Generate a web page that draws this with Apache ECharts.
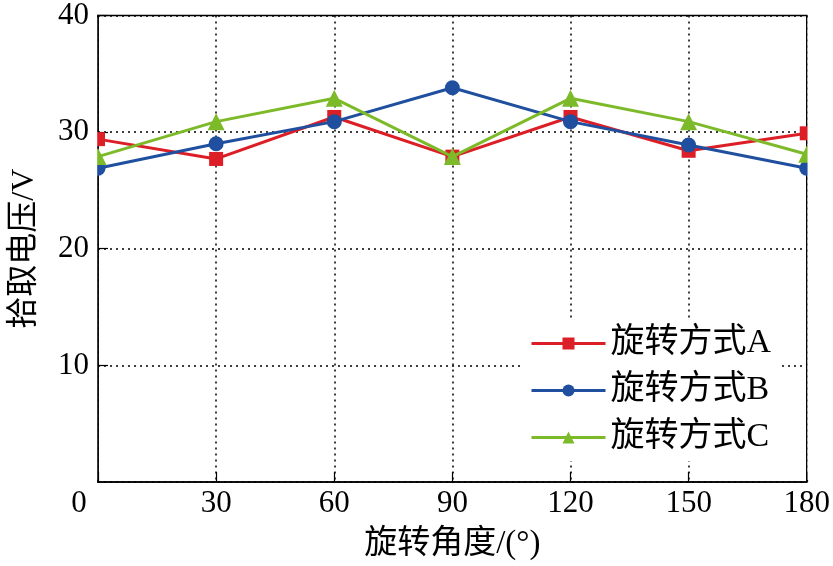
<!DOCTYPE html>
<html><head><meta charset="utf-8">
<script src="https://cdn.jsdelivr.net/npm/echarts@6/dist/echarts.min.js"></script>
<style>html,body{margin:0;padding:0;background:#fff}#c{width:833px;height:566px}</style>
</head><body><div id="c"></div>
<script>
const angles = [0, 30, 60, 90, 120, 150, 180];
const seriesNames = ['旋转方式A', '旋转方式B', '旋转方式C'];
const voltA = [29.4, 27.7, 31.3, 27.9, 31.3, 28.4, 29.9];
const voltB = [26.9, 29.0, 30.9, 33.8, 30.9, 28.9, 26.9];
const voltC = [27.9, 30.9, 32.9, 27.9, 32.9, 30.9, 28.1];
const xTitle = '旋转角度/(°)';
const yTitle = '拾取电压/V';

const font = '"Times New Roman","Liberation Serif","Noto Sans CJK SC",serif';
const colors = ['#dc1e26', '#1f4f9e', '#7dba29'];
const symbols = ['rect', 'circle', 'triangle'];
const sizes = [14, 15, 17];
const values = [voltA, voltB, voltC];

const chart = echarts.init(document.getElementById('c'));
chart.setOption({
  animation: false,
  backgroundColor: '#fff',
  grid: { left: 98, right: 18, top: 13, bottom: 84, show: true, borderColor: '#000', borderWidth: 1.5, backgroundColor: 'transparent' },
  xAxis: {
    type: 'value', min: 0, max: 180, interval: 30,
    name: xTitle, nameLocation: 'middle', nameGap: 46,
    nameTextStyle: { fontFamily: font, fontSize: 33, color: '#000' },
    axisLine: { show: true, lineStyle: { color: '#000', width: 1.5 } },
    axisTick: { show: true, inside: true, length: 10, lineStyle: { color: '#000', width: 1.2 } },
    axisLabel: {
      fontFamily: font, fontSize: 31, color: '#000', margin: 6,
      formatter: v => v === 0 ? '{z|0}' : String(v),
      rich: { z: { fontFamily: font, fontSize: 31, color: '#000', padding: [0, 38, 0, 0] } }
    },
    splitLine: { show: true, lineStyle: { color: '#000', type: [2, 4], width: 1.5 } }
  },
  yAxis: {
    type: 'value', min: 0, max: 40, interval: 10,
    name: yTitle, nameLocation: 'middle', nameGap: 57, nameRotate: 90,
    nameTextStyle: { fontFamily: font, fontSize: 32, color: '#000' },
    axisLine: { show: true, lineStyle: { color: '#000', width: 1.5 } },
    axisTick: { show: true, inside: true, length: 10, lineStyle: { color: '#000', width: 1.2 } },
    axisLabel: {
      fontFamily: font, fontSize: 31, color: '#000', margin: 9,
      showMinLabel: false, verticalAlign: 'middle', padding: [4, 0, 0, 0]
    },
    splitLine: { show: true, lineStyle: { color: '#000', type: [2, 4], width: 1.5 } }
  },
  legend: {
    orient: 'vertical', left: 522, top: 320,
    itemWidth: 74, itemHeight: 15, itemGap: 12,
    backgroundColor: '#fff', padding: [6, 10, 6, 8],
    lineStyle: { width: 3 },
    textStyle: { fontFamily: font, fontSize: 34, color: '#000', lineHeight: 35 },
    data: seriesNames
  },
  series: seriesNames.map((n, i) => ({
    name: n, type: 'line',
    data: angles.map((a, j) => [a, values[i][j]]),
    symbol: symbols[i], symbolSize: sizes[i],
    lineStyle: { color: colors[i], width: 3 },
    itemStyle: { color: colors[i] },
    clip: false, z: 3 + i
  }))
});

// mask the parts of edge markers that fall outside the plot frame (the reference clips them)
const p0 = chart.convertToPixel({ gridIndex: 0 }, [0, 40]);
const p1 = chart.convertToPixel({ gridIndex: 0 }, [180, 0]);
chart.setOption({
  graphic: [
    { type: 'rect', z: 100, shape: { x: p0[0] - 10, y: p0[1] + 2, width: 9.2, height: p1[1] - p0[1] - 4 }, style: { fill: '#fff' } },
    { type: 'rect', z: 100, shape: { x: p1[0] + 0.8, y: p0[1] + 2, width: 12, height: p1[1] - p0[1] - 4 }, style: { fill: '#fff' } }
  ]
});
</script></body></html>
